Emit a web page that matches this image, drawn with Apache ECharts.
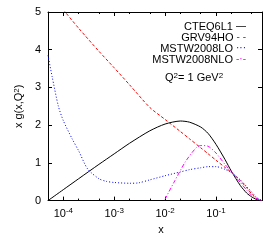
<!DOCTYPE html>
<html>
<head>
<meta charset="utf-8">
<script src="https://cdn.jsdelivr.net/npm/echarts@6/dist/echarts.min.js"></script>
<style>html,body{margin:0;padding:0;background:#fff}#c{width:274px;height:240px}</style>
</head>
<body>
<div id="c"></div>
<script>
const seriesNames = ['CTEQ6L1', 'GRV94HO', 'MSTW2008LO', 'MSTW2008NLO'];

const xCTEQ = [5e-5, 1e-4, 2e-4, 5e-4, 1e-3, 2e-3, 5e-3, 1e-2, 2e-2, 3e-2, 5e-2, 0.07, 0.1, 0.15, 0.2, 0.3, 0.4, 0.5, 0.6, 0.7, 0.8];
const yCTEQ = [0, 0.29, 0.58, 0.96, 1.24, 1.52, 1.85, 2.03, 2.11, 2.08, 1.95, 1.78, 1.49, 1.09, 0.78, 0.40, 0.20, 0.10, 0.04, 0.01, 0];

const xGRV = [1e-4, 2e-4, 5e-4, 1e-3, 2e-3, 5e-3, 1e-2, 2e-2, 3e-2, 5e-2, 0.07, 0.1, 0.15, 0.2, 0.3, 0.4, 0.5, 0.6, 0.7, 0.8];
const yGRV = [5.06, 4.57, 3.96, 3.52, 3.07, 2.47, 2.15, 1.83, 1.64, 1.40, 1.24, 1.07, 0.88, 0.75, 0.53, 0.34, 0.18, 0.08, 0.02, 0];

const xMSTW = [5e-5, 6e-5, 8e-5, 1e-4, 1.5e-4, 2e-4, 3e-4, 5e-4, 7e-4, 1e-3, 2e-3, 3e-3, 5e-3, 1e-2, 2e-2, 3e-2, 5e-2, 0.07, 0.1, 0.15, 0.2, 0.3, 0.4, 0.5, 0.6, 0.7, 0.8];
const yMSTW = [3.85, 3.3, 2.5, 2.12, 1.63, 1.32, 0.84, 0.58, 0.51, 0.48, 0.46, 0.47, 0.55, 0.66, 0.76, 0.82, 0.87, 0.90, 0.90, 0.83, 0.74, 0.55, 0.37, 0.23, 0.11, 0.04, 0];

const xNLO = [0.007, 0.01, 0.015, 0.025, 0.04, 0.05, 0.07, 0.1, 0.15, 0.2, 0.3, 0.45, 0.6, 0.8];
const yNLO = [-0.4, 0.04, 0.49, 1.03, 1.39, 1.46, 1.44, 1.26, 0.96, 0.76, 0.48, 0.20, 0.06, 0];

const xMajorTicks = [1e-4, 1e-3, 1e-2, 1e-1];
const xMinorTicks = [2e-4, 5e-4, 2e-3, 5e-3, 2e-2, 5e-2, 2e-1, 5e-1];

const FONT = 'Liberation Sans';
const xMin = 5e-5, xMax = 0.8;

function pairs(xs, ys) { return xs.map((x, i) => [x, ys[i]]); }

function expLabel(v) {
  const e = v > 0 ? Math.round(Math.log10(v)) : Math.round(v);
  return '{b|10}{s|' + e + '}';
}

function xAxisDef(pos, ticks, len, showLabel, showLine) {
  return {
    type: 'log', position: pos, min: xMin, max: xMax, logBase: 10,
    axisLine: { show: showLine, lineStyle: { color: '#000', width: 1 } },
    axisTick: { show: true, inside: true, length: len, customValues: ticks, lineStyle: { color: '#000', width: 1 } },
    axisLabel: showLabel ? {
      show: true, customValues: ticks, margin: 6, color: '#000', fontFamily: FONT, fontSize: 11,
      formatter: expLabel,
      rich: {
        b: { fontSize: 11, fontFamily: FONT, color: '#000', lineHeight: 14 },
        s: { fontSize: 8, fontFamily: FONT, color: '#000', verticalAlign: 'top', lineHeight: 14 }
      }
    } : { show: false },
    splitLine: { show: false },
    minorTick: { show: false }
  };
}

const styles = [
  { color: '#000000', type: 'solid', sample: '\u2014' },
  { color: '#ff0000', type: [3, 2], sample: '- -' },
  { color: '#0000ff', type: [1, 2], sample: '\u00b7\u00b7\u00b7' },
  { color: '#ff00ff', type: [4, 2, 1, 2], sample: '-\u00b7-' }
];
const dataSets = [pairs(xCTEQ, yCTEQ), pairs(xGRV, yGRV), pairs(xMSTW, yMSTW), pairs(xNLO, yNLO)];

const legendRich = {};
styles.forEach((s, i) => {
  legendRich['k' + i] = { color: s.color, fontFamily: FONT, fontSize: 10, lineHeight: 10.5 };
});

const chart = echarts.init(document.getElementById('c'), null, { renderer: 'canvas' });
chart.setOption({
  animation: false,
  backgroundColor: '#fff',
  grid: { left: 48, top: 12, width: 214, height: 193, containLabel: false },
  xAxis: [
    Object.assign(xAxisDef('bottom', xMajorTicks, 4, true, true), {
      name: 'x', nameLocation: 'middle', nameGap: 23,
      nameTextStyle: { fontFamily: FONT, fontSize: 11, color: '#000', padding: [0, 0, 0, 12] }
    }),
    xAxisDef('bottom', xMinorTicks, 2, false, false),
    xAxisDef('top', xMajorTicks, 4, false, true),
    xAxisDef('top', xMinorTicks, 2, false, false)
  ],
  yAxis: [
    {
      type: 'value', min: 0, max: 5, interval: 1, position: 'left',
      name: 'x g(x,Q{s|2})', nameLocation: 'middle', nameGap: 15, nameRotate: 90,
      nameTextStyle: {
        fontFamily: FONT, fontSize: 11, color: '#000',
        rich: { s: { fontSize: 8, fontFamily: FONT, color: '#000', verticalAlign: 'top' } }
      },
      axisLine: { show: true, lineStyle: { color: '#000', width: 1 } },
      axisTick: { show: true, inside: true, length: 4, lineStyle: { color: '#000' } },
      axisLabel: { color: '#000', fontFamily: FONT, fontSize: 11, margin: 7 },
      splitLine: { show: false }
    },
    {
      type: 'value', min: 0, max: 5, interval: 1, position: 'right',
      axisLine: { show: true, lineStyle: { color: '#000', width: 1 } },
      axisTick: { show: true, inside: true, length: 4, lineStyle: { color: '#000' } },
      axisLabel: { show: false },
      splitLine: { show: false }
    }
  ],
  legend: {
    data: seriesNames, icon: 'rect',
    orient: 'vertical', right: 18, top: 16, align: 'right',
    itemWidth: 0, itemHeight: 0, itemGap: 0, selectedMode: false,
    formatter: function (name) {
      const i = seriesNames.indexOf(name);
      return name + ' {k' + i + '|' + styles[i].sample + '}';
    },
    textStyle: { fontFamily: FONT, fontSize: 11, color: '#000', lineHeight: 10.5, rich: legendRich }
  },
  graphic: [{
    type: 'text', left: 165, top: 72,
    style: {
      text: 'Q{s|2}= 1 GeV{s|2}', fontFamily: FONT, fontSize: 11, fill: '#000',
      rich: { s: { fontSize: 8, fontFamily: FONT, fill: '#000', verticalAlign: 'top' } }
    }
  }],
  series: seriesNames.map((n, i) => ({
    name: n, type: 'line', xAxisIndex: 0, yAxisIndex: 0,
    data: dataSets[i], showSymbol: false, symbol: 'none', smooth: 0.25, clip: true,
    lineStyle: { color: styles[i].color, width: 1, type: styles[i].type },
    itemStyle: { color: styles[i].color }
  }))
});
</script>
</body>
</html>
